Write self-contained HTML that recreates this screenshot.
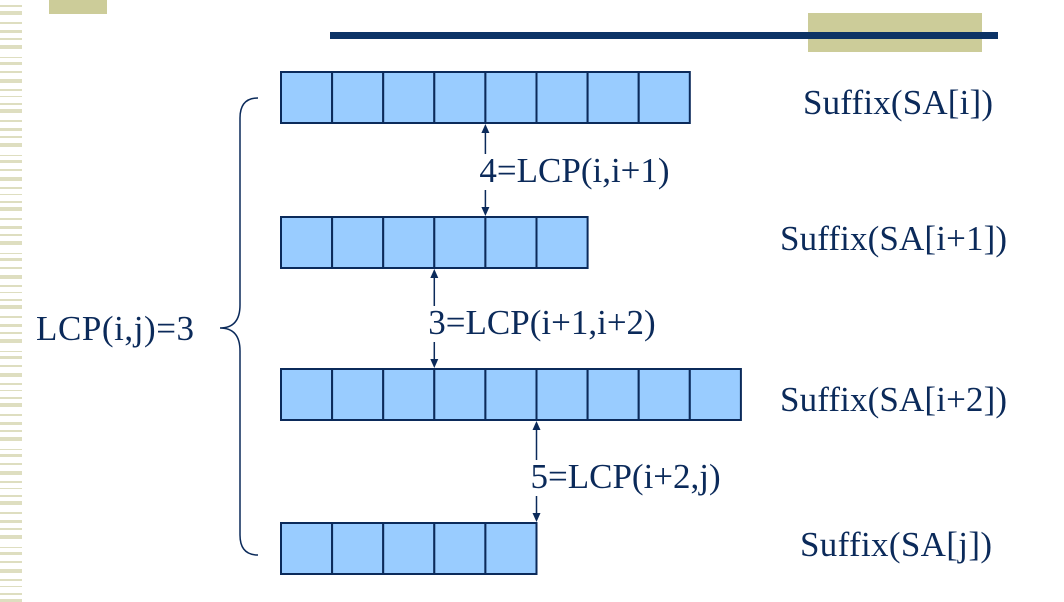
<!DOCTYPE html>
<html><head><meta charset="utf-8"><style>
html,body{margin:0;padding:0;background:#fff;width:1064px;height:602px;overflow:hidden}
text{font-family:"Liberation Serif",serif;fill:#0b2a5a}
</style></head><body>
<svg id="s" width="1064" height="602" viewBox="0 0 1064 602" xmlns="http://www.w3.org/2000/svg">
<g id="stripe"></g>
<rect x="49" y="0" width="58" height="14" fill="#cccc99"/>
<rect x="808" y="13" width="174" height="39" fill="#cccc99"/>
<rect x="330" y="32" width="668" height="7" fill="#0c3366"/>
<g id="rows"></g>
<g id="arrows"></g>
<path d="M258,98 Q240,98 240,118 L240,305 Q240,328 220,328 Q240,328 240,351 L240,535 Q240,555 258,555" fill="none" stroke="#0b2a5a" stroke-width="1.5"/>
<text x="36" y="340" font-size="35" textLength="158">LCP(i,j)=3</text>
<text x="803" y="114" font-size="35" textLength="190">Suffix(SA[i])</text>
<text x="780" y="250" font-size="35" textLength="227">Suffix(SA[i+1])</text>
<text x="780" y="411" font-size="35" textLength="227">Suffix(SA[i+2])</text>
<text x="800" y="556" font-size="35" textLength="192">Suffix(SA[j])</text>
</svg>
<script>
const cellCounts=[8,6,9,5];
const lcpValues=[4,3,5];
const lcpLabels=["4=LCP(i,i+1)","3=LCP(i+1,i+2)","5=LCP(i+2,j)"];
const NS="http://www.w3.org/2000/svg";
const x0=281,cw=51.1,ch=51;
const rowTops=[72,217,369,523];
const cx=n=>x0+n*cw;
const rowsG=document.getElementById('rows');
cellCounts.forEach((n,r)=>{
  for(let k=0;k<n;k++){
    const c=document.createElementNS(NS,'rect');
    c.setAttribute('x',cx(k));c.setAttribute('y',rowTops[r]);
    c.setAttribute('width',cw);c.setAttribute('height',ch);
    c.setAttribute('fill','#99ccff');c.setAttribute('stroke','#0b2a5a');c.setAttribute('stroke-width','2');
    
    
    rowsG.appendChild(c);
  }
});
const arrG=document.getElementById('arrows');
const labelY=[182,334,488];
lcpValues.forEach((v,i)=>{
  const x=cx(v);
  const y1=rowTops[i]+ch+1,y2=rowTops[i+1]-1;
  const g=document.createElementNS(NS,'g');
  
  
  const ln=document.createElementNS(NS,'line');
  ln.setAttribute('x1',x);ln.setAttribute('y1',y1+6);ln.setAttribute('x2',x);ln.setAttribute('y2',y2-6);
  ln.setAttribute('stroke','#0b2a5a');ln.setAttribute('stroke-width','1.5');
  g.appendChild(ln);
  [[y1,1],[y2,-1]].forEach(([y,d])=>{
    const p=document.createElementNS(NS,'path');
    p.setAttribute('d',`M${x},${y} L${x-4},${y+9*d} L${x+4},${y+9*d} Z`);
    p.setAttribute('fill','#0b2a5a');
    g.appendChild(p);
  });
  const lh=labelY[i];
  const bg=document.createElementNS(NS,'rect');
  bg.setAttribute('x',x-6);bg.setAttribute('y',lh-28);bg.setAttribute('width',14);bg.setAttribute('height',36);bg.setAttribute('fill','#fff');
  g.appendChild(bg);
  const t=document.createElementNS(NS,'text');
  t.setAttribute('x',x-6);t.setAttribute('y',lh);t.setAttribute('font-size','35');
  t.textContent=lcpLabels[i];
  
  
  g.appendChild(t);
  arrG.appendChild(g);
});
const st=document.getElementById('stripe');
const pat=[[2,1],[4,3],[2,1],[3,2],[2,1],[4,3],[1,1],[3,2],[2,1],[4,3],[2,1],[1,1]];
let y=5,k=0;
while(y<600){
  const [h,g]=pat[k%pat.length];
  const r=document.createElementNS(NS,'rect');
  r.setAttribute('x',0);r.setAttribute('y',y);r.setAttribute('width',22);r.setAttribute('height',h);
  r.setAttribute('fill','#dedec0');
  st.appendChild(r);
  y+=h+g+3+(k%3);k++;
}
</script>
</body></html>
